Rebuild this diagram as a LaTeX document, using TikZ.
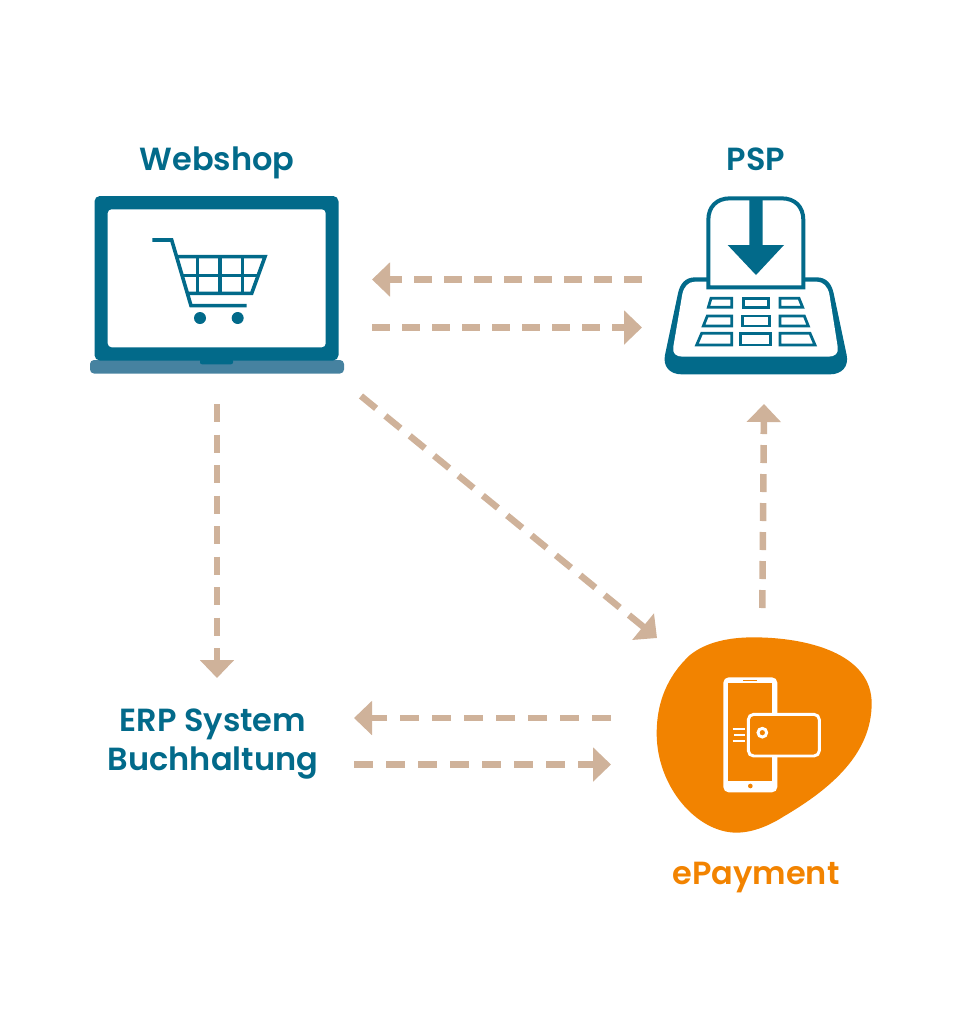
\documentclass[tikz,border=0pt]{standalone}
\usepackage{fontspec}
\setmainfont{Poppins}[UprightFont=* SemiBold]
\usetikzlibrary{arrows.meta}
\definecolor{tealBlue}{RGB}{2,106,138}
\definecolor{tealLight}{RGB}{70,130,160}
\definecolor{payOrange}{RGB}{242,131,0}
\definecolor{flowTan}{RGB}{207,178,154}
\tikzset{
    label/.style={font=\fontsize{24}{29.25}\selectfont, text=tealBlue, align=center, inner sep=0pt},
    flow/.style={draw=flowTan, line width=4.9pt, dash pattern=on 13.5pt off 9pt,
        -{Triangle[length=13.5pt,width=25pt,fill=flowTan]}},
    keybox/.style={draw=tealBlue, line width=2.1pt, line join=miter},
    cartline/.style={draw=tealBlue, line width=2.7pt}
}

\begin{document}
\begin{tikzpicture}[x=0.75pt,y=-0.75pt]
    \useasboundingbox (0,0) rectangle (960,1033);

    % draw labels
    \node[label,anchor=base] (webshop) at (217,170) {Webshop};
    \node[label,anchor=base] (psp) at (756,170) {PSP};
    \node[label] (erp) at (213,744) {ERP System\\Buchhaltung};
    \node[label,anchor=base,text=payOrange] (epayment) at (756,884) {ePayment};

    % draw laptop
    \fill[tealLight, rounded corners=3pt] (90,360) -- (344,360) -- (344,373.5) -- (90,373.5) -- cycle;
    \fill[tealBlue, rounded corners=4pt] (94.5,196) rectangle (338.5,360.5);
    \fill[white, rounded corners=3pt] (107.7,209.3) rectangle (325.7,347.3);
    \fill[tealBlue, rounded corners=1.5pt] (200,359) rectangle (233,364.3);

    % draw cart
    \begin{scope}[shift={(80,130)},x=0.25pt,y=-0.25pt]
        \draw[cartline] (217,330) -- (275,330) -- (333,527) -- (500,527);
        \draw[cartline] (290,380) -- (555,380) -- (515,490) -- (322,490);
        \draw[cartline] (305,437) -- (535,437);
        \foreach \x in {352,420,487}
            \draw[cartline] (\x,380) -- (\x,490);
        \fill[tealBlue] (360,564) circle (18);
        \fill[tealBlue] (473,564) circle (18);
    \end{scope}

    % draw terminal
    \begin{scope}[shift={(650,130)},x=0.25pt,y=-0.25pt]
        \fill[tealBlue] (175,442) -- (135,442) .. controls (105,442) and (90,462) .. (84,490)
            -- (45,675) .. controls (38,710) and (60,733) .. (95,733) -- (540,733)
            .. controls (575,733) and (597,710) .. (590,675) -- (551,490)
            .. controls (545,462) and (530,442) .. (500,442) -- (460,442) -- cycle;
        \fill[white] (175,455) -- (135,455) .. controls (115,455) and (102,470) .. (97,492)
            -- (70,650) .. controls (66,670) and (78,680) .. (98,680) -- (535,680)
            .. controls (555,680) and (567,670) .. (563,650) -- (538,492)
            .. controls (533,470) and (520,455) .. (500,455) -- (460,455) -- cycle;
        \draw[draw=tealBlue, line width=3pt, fill=white] (175,472) -- (175,270)
            .. controls (175,230) and (200,205) .. (240,205) -- (395,205)
            .. controls (435,205) and (460,230) .. (460,270) -- (460,472) -- cycle;
        \fill[tealBlue] (298,205) -- (338,205) -- (338,345) -- (402,345) -- (318,435) -- (233,345) -- (298,345) -- cycle;
        % keys
        \draw[keybox] (183,505) -- (245,505) -- (245,532) -- (175,532) -- cycle;
        \draw[keybox] (280,505) -- (355,505) -- (355,532) -- (280,532) -- cycle;
        \draw[keybox] (390,505) -- (447,505) -- (458,532) -- (390,532) -- cycle;
        \draw[keybox] (172,558) -- (245,558) -- (245,588) -- (160,588) -- cycle;
        \draw[keybox] (277,558) -- (358,558) -- (358,588) -- (277,588) -- cycle;
        \draw[keybox] (390,558) -- (463,558) -- (475,588) -- (390,588) -- cycle;
        \draw[keybox] (155,610) -- (245,610) -- (245,645) -- (140,645) -- cycle;
        \draw[keybox] (272,610) -- (362,610) -- (362,645) -- (272,645) -- cycle;
        \draw[keybox] (390,610) -- (480,610) -- (495,645) -- (390,645) -- cycle;
    \end{scope}

    % draw blob with phone and card
    \begin{scope}[shift={(640,620)},x=0.25pt,y=-0.25pt]
        \fill[payOrange] (340,52) .. controls (500,52) and (695,100) .. (695,250)
            .. controls (695,400) and (575,505) .. (430,590)
            .. controls (380,622) and (330,638) .. (290,638)
            .. controls (170,638) and (50,500) .. (50,340)
            .. controls (50,250) and (80,170) .. (150,105)
            .. controls (200,65) and (270,52) .. (340,52) -- cycle;
        \fill[white, rounded corners=4pt] (250,172) rectangle (412,517);
        \fill[payOrange] (265,190) rectangle (397,482);
        \fill[payOrange] (310,180) rectangle (352,184);
        \fill[payOrange] (331,498) circle (7);
        \draw[white, line width=2.2pt, fill=payOrange, rounded corners=4pt] (325,283) rectangle (538,408);
        \draw[white, line width=2.2pt] (367,338) circle (13);
        \draw[white, line width=1.6pt] (278,328) -- (315,328);
        \draw[white, line width=1.6pt] (282,345) -- (315,345);
        \draw[white, line width=1.6pt] (278,362) -- (315,362);
    \end{scope}

    % ends of the arrows
    \coordinate (shopOutA) at (372,279.5);
    \coordinate (pspInA) at (642,279.5);
    \coordinate (shopOutB) at (372,327.5);
    \coordinate (pspInB) at (642,327.5);
    \coordinate (shopDown) at (217,404);
    \coordinate (erpTop) at (217,678);
    \coordinate (shopDiag) at (361,396);
    \coordinate (payDiag) at (657,638);
    \coordinate (payUp) at (762.3,608);
    \coordinate (pspDown) at (764,404);
    \coordinate (erpOutA) at (354,718);
    \coordinate (payInA) at (611,718);
    \coordinate (erpOutB) at (354,764.5);
    \coordinate (payInB) at (611,764.5);

    % draw arrows
    \draw[flow] (pspInA) -- (shopOutA);
    \draw[flow] (shopOutB) -- (pspInB);
    \draw[flow, dash pattern=on 13.5pt off 9.4pt] (shopDown) -- (erpTop);
    \draw[flow, dash pattern=on 14.6pt off 9pt] (shopDiag) -- (payDiag);
    \draw[flow, dash pattern=on 13.5pt off 8.25pt] (payUp) -- (pspDown);
    \draw[flow, dash pattern=on 14.6pt off 9.4pt] (payInA) -- (erpOutA);
    \draw[flow, dash pattern=on 14.6pt off 9.4pt] (erpOutB) -- (payInB);
\end{tikzpicture}
\end{document}
